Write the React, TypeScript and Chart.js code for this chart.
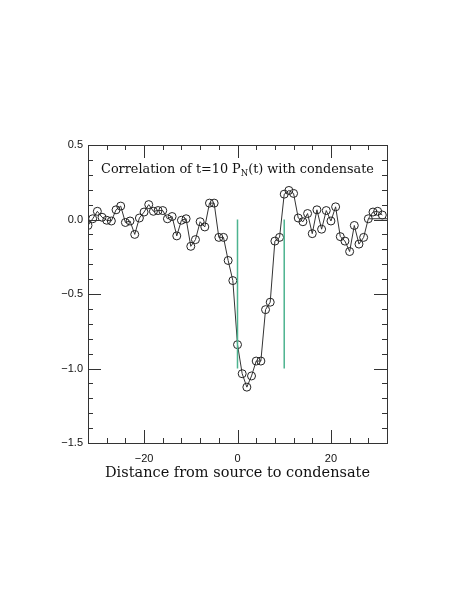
import React, { useEffect, useRef } from "react";
import { Chart, registerables } from "chart.js";

Chart.register(...registerables);

// ---- data ----
const distances = [
  -32, -31, -30, -29, -28, -27, -26, -25, -24, -23, -22, -21, -20, -19, -18, -17,
  -16, -15, -14, -13, -12, -11, -10, -9, -8, -7, -6, -5, -4, -3, -2, -1,
  0, 1, 2, 3, 4, 5, 6, 7, 8, 9, 10, 11, 12, 13, 14, 15,
  16, 17, 18, 19, 20, 21, 22, 23, 24, 25, 26, 27, 28, 29, 30, 31,
];
const correlation = [
  -0.04, 0.005, 0.055, 0.015, -0.005, -0.01, 0.065, 0.09, -0.02, -0.01, -0.1, 0.01, 0.05, 0.1, 0.055, 0.06,
  0.06, 0.005, 0.02, -0.11, -0.005, 0.005, -0.18, -0.135, -0.015, -0.05, 0.11, 0.11, -0.12, -0.12, -0.275, -0.41,
  -0.84, -1.035, -1.125, -1.05, -0.95, -0.95, -0.605, -0.555, -0.145, -0.12, 0.17, 0.195, 0.175, 0.01, -0.015, 0.04,
  -0.095, 0.065, -0.065, 0.06, -0.01, 0.085, -0.115, -0.145, -0.215, -0.04, -0.165, -0.12, 0.005, 0.05, 0.055, 0.03,
];
// short flat segment drawn at the right edge of the reference
const edgeSegmentX = [28, 32];
const edgeSegmentY = [0.005, 0.005];

const markerPositions = [0, 10];
const markerTop = 0;
const markerBottom = -1;

const xMin = -32;
const xMax = 32;
const yMin = -1.5;
const yMax = 0.5;
const xTickLabels = [-20, 0, 20];
const yTickLabels = [-1.5, -1.0, -0.5, 0.0, 0.5];
const xMinorStep = 4;
const xMajorStep = 20;
const yMinorStep = 0.1;
const yMajorStep = 0.5;

const titleMain = "Correlation of t=10 P";
const titleSub = "N";
const titleRest = "(t) with condensate";
const xAxisTitle = "Distance from source to condensate";

const fmtX = (v: number) => (v < 0 ? "\u2212" + Math.abs(v).toFixed(0) : v.toFixed(0));
const fmtY = (v: number) => (v < 0 ? "\u2212" + Math.abs(v).toFixed(1) : v.toFixed(1));

const framePlugin = {
  id: "frame",
  afterDraw(chart: any) {
    const { ctx, chartArea: a, scales } = chart;
    const x = scales.x;
    const y = scales.y;
    ctx.save();
    ctx.strokeStyle = "#333";
    ctx.lineWidth = 1;
    ctx.strokeRect(Math.round(a.left) + 0.5, Math.round(a.top) + 0.5, Math.round(a.right - a.left), Math.round(a.bottom - a.top));
    ctx.beginPath();
    const nx = Math.round((xMax - xMin) / xMinorStep);
    for (let i = 1; i < nx; i++) {
      const v = xMin + i * xMinorStep;
      const px = Math.round(x.getPixelForValue(v)) + 0.5;
      const major = Math.abs(v % xMajorStep) < 1e-9;
      const len = major ? 13 : 5;
      ctx.moveTo(px, a.bottom);
      ctx.lineTo(px, a.bottom - len);
      ctx.moveTo(px, a.top);
      ctx.lineTo(px, a.top + len);
    }
    const ny = Math.round((yMax - yMin) / yMinorStep);
    for (let i = 1; i < ny; i++) {
      const v = yMin + i * yMinorStep;
      const py = Math.round(y.getPixelForValue(v)) + 0.5;
      const r = v / yMajorStep;
      const major = Math.abs(r - Math.round(r)) < 1e-6;
      const len = major ? 13 : 5;
      ctx.moveTo(a.left, py);
      ctx.lineTo(a.left + len, py);
      ctx.moveTo(a.right, py);
      ctx.lineTo(a.right - len, py);
    }
    ctx.stroke();

    // in-plot title with subscript
    ctx.fillStyle = "#111";
    const mainFont = "12.8px 'DejaVu Serif'";
    const subFont = "8.5px 'DejaVu Serif'";
    ctx.font = mainFont;
    const w1 = ctx.measureText(titleMain).width;
    const w3 = ctx.measureText(titleRest).width;
    ctx.font = subFont;
    const w2 = ctx.measureText(titleSub).width;
    const total = w1 + w2 + w3;
    const cx = (a.left + a.right) / 2;
    let tx = cx - total / 2;
    const base = a.top + 28;
    ctx.textBaseline = "alphabetic";
    ctx.textAlign = "left";
    ctx.font = mainFont;
    ctx.fillText(titleMain, tx, base);
    tx += w1;
    ctx.font = subFont;
    ctx.fillText(titleSub, tx, base + 3);
    tx += w2;
    ctx.font = mainFont;
    ctx.fillText(titleRest, tx, base);

    // x-axis title
    ctx.font = "14.5px 'DejaVu Serif'";
    ctx.textAlign = "center";
    ctx.fillText(xAxisTitle, cx, a.bottom + 34);
    ctx.restore();
  },
};

export default function App() {
  const ref = useRef<HTMLCanvasElement | null>(null);
  useEffect(() => {
    if (!ref.current) return;
    const mainData = distances.map((d, i) => ({ x: d, y: correlation[i] }));
    const markerSets = markerPositions.map((m) => ({
      data: [
        { x: m, y: markerTop },
        { x: m, y: markerBottom },
      ],
      borderColor: "#4db38f",
      borderWidth: 1.5,
      pointRadius: 0,
      showLine: true,
      fill: false,
    }));
    const chart = new Chart(ref.current, {
      type: "scatter",
      data: {
        datasets: [
          ...markerSets,
          {
            data: edgeSegmentX.map((d, i) => ({ x: d, y: edgeSegmentY[i] })),
            borderColor: "#333",
            borderWidth: 1,
            pointRadius: 0,
            showLine: true,
          },
          {
            data: mainData,
            borderColor: "#333",
            borderWidth: 1,
            showLine: true,
            pointRadius: 4,
            pointBackgroundColor: "rgba(0,0,0,0)",
            pointBorderColor: "#222",
            pointBorderWidth: 1,
          },
        ] as any,
      },
      options: {
        responsive: false,
        animation: false,
        events: [],
        layout: { padding: { top: 145, right: 84, bottom: 126, left: 0 } },
        plugins: { legend: { display: false }, tooltip: { enabled: false }, title: { display: false } },
        scales: {
          x: {
            type: "linear",
            min: xMin,
            max: xMax,
            grid: { display: false, drawTicks: false },
            border: { display: false },
            afterBuildTicks: (s: any) => {
              s.ticks = xTickLabels.map((v) => ({ value: v }));
            },
            afterFit: (s: any) => {
              s.height = 40;
            },
            ticks: {
              padding: 9,
              color: "#111",
              font: { family: "'Liberation Sans'", size: 11 },
              callback: (v: any) => fmtX(Number(v)),
              maxRotation: 0,
            },
          },
          y: {
            type: "linear",
            min: yMin,
            max: yMax,
            grid: { display: false, drawTicks: false },
            border: { display: false },
            afterBuildTicks: (s: any) => {
              s.ticks = yTickLabels.map((v) => ({ value: v }));
            },
            afterFit: (s: any) => {
              s.width = 88;
            },
            ticks: {
              padding: 5,
              color: "#111",
              font: { family: "'Liberation Sans'", size: 11 },
              callback: (v: any) => fmtY(Number(v)),
            },
          },
        },
      },
      plugins: [framePlugin],
    } as any);
    return () => chart.destroy();
  }, []);
  return (
    <div style={{ position: "absolute", left: 0, top: 0, width: 471, height: 609, background: "#fff" }}>
      <canvas ref={ref} width={471} height={609} style={{ display: "block", width: 471, height: 609 }} />
    </div>
  );
}
